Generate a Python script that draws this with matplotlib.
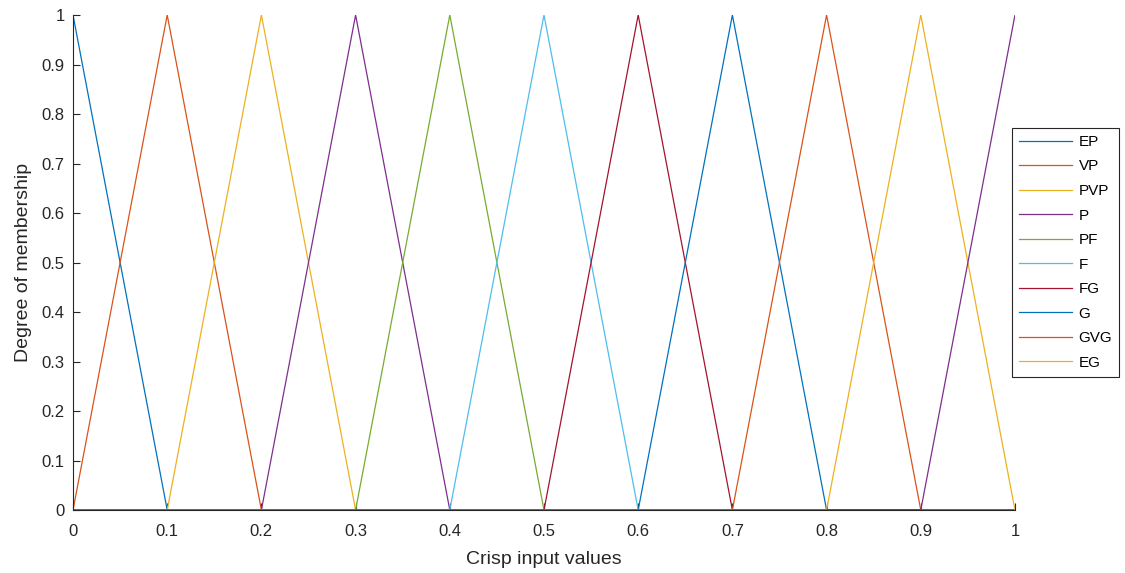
import matplotlib.pyplot as plt

plt.rcParams['font.family'] = ['Liberation Sans', 'DejaVu Sans']

# membership function breakpoints (x) and degrees (y)
x_EP = [0, 0.1, 1]
y_EP = [1, 0, 0]
x_VP = [0, 0.1, 0.2, 1]
y_VP = [0, 1, 0, 0]
x_PVP = [0, 0.1, 0.2, 0.3, 1]
y_PVP = [0, 0, 1, 0, 0]
x_P = [0, 0.2, 0.3, 0.4, 1]
y_P = [0, 0, 1, 0, 0]
x_PF = [0, 0.3, 0.4, 0.5, 1]
y_PF = [0, 0, 1, 0, 0]
x_F = [0, 0.4, 0.5, 0.6, 1]
y_F = [0, 0, 1, 0, 0]
x_FG = [0, 0.5, 0.6, 0.7, 1]
y_FG = [0, 0, 1, 0, 0]
x_G = [0, 0.6, 0.7, 0.8, 1]
y_G = [0, 0, 1, 0, 0]
x_GVG = [0, 0.7, 0.8, 0.9, 1]
y_GVG = [0, 0, 1, 0, 0]
x_EG = [0, 0.8, 0.9, 1]
y_EG = [0, 0, 1, 0]
x_last = [0, 0.9, 1]
y_last = [0, 0, 1]

labels = ["EP", "VP", "PVP", "P", "PF", "F", "FG", "G", "GVG", "EG"]
xs = [x_EP, x_VP, x_PVP, x_P, x_PF, x_F, x_FG, x_G, x_GVG, x_EG, x_last]
ys = [y_EP, y_VP, y_PVP, y_P, y_PF, y_F, y_FG, y_G, y_GVG, y_EG, y_last]

# matlab default line colours
colors = ["#0072BD", "#D95319", "#EDB120", "#7E2F8E", "#77AC30",
          "#4DBEEE", "#A2142F"]

fig = plt.figure(figsize=(11.25, 5.73), dpi=100)
ax = fig.add_axes([0.0649, 0.1099, 0.8373, 0.8639])

handles = []
for i in range(len(xs)):
    h, = ax.plot(xs[i], ys[i], color=colors[i % len(colors)], lw=0.9)
    handles.append(h)

ax.set_xlim(0, 1)
ax.set_ylim(0, 1)
ticks = [0, 0.1, 0.2, 0.3, 0.4, 0.5, 0.6, 0.7, 0.8, 0.9, 1]
ticklabels = ["0", "0.1", "0.2", "0.3", "0.4", "0.5", "0.6", "0.7", "0.8", "0.9", "1"]
ax.set_xticks(ticks)
ax.set_xticklabels(ticklabels)
ax.set_yticks(ticks)
ax.set_yticklabels(ticklabels)
ax.tick_params(direction='in', length=5, width=0.8, colors='#262626',
               labelsize=12)
ax.tick_params(axis='x', pad=10)
ax.tick_params(axis='y', pad=6)
for s in ['top', 'right']:
    ax.spines[s].set_visible(False)
for s in ['left', 'bottom']:
    ax.spines[s].set_color('#262626')
    ax.spines[s].set_linewidth(0.8)

ax.set_xlabel("Crisp input values", fontsize=14, color='#262626', labelpad=9)
ax.set_ylabel("Degree of membership", fontsize=14, color='#262626', labelpad=7)

leg = ax.legend(handles[:10], labels, loc='upper left',
                bbox_to_anchor=(0.8996, 0.7766), bbox_transform=fig.transFigure,
                borderaxespad=0, fontsize=11, handlelength=3.5, labelspacing=0.69,
                fancybox=False, framealpha=1, edgecolor='#262626', handletextpad=0.4,
                borderpad=0.45)
leg.get_frame().set_linewidth(0.8)

fig.savefig("out.png", dpi=100)
